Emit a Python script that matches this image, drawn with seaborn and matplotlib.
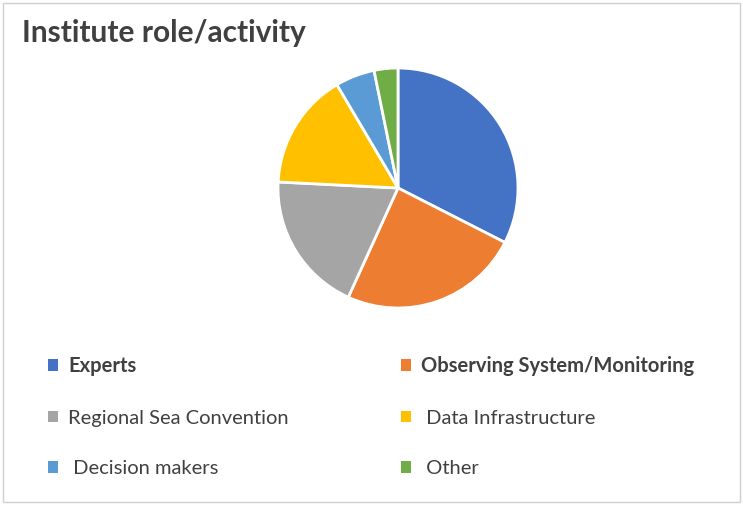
import matplotlib
matplotlib.use('Agg')
import matplotlib.pyplot as plt
import seaborn as sns
from matplotlib.patches import Patch, Rectangle

# data (share of answers, %)
roles = ['Experts', 'Observing System/Monitoring', 'Regional Sea Convention',
         ' Data Infrastructure', ' Decision makers', ' Other']
shares = [32.5, 24.3, 19.0, 15.7, 5.3, 3.2]
colors = ['#4472C4', '#ED7D31', '#A5A5A5', '#FFC000', '#5B9BD5', '#70AD47']
bold_roles = ['Experts', 'Observing System/Monitoring']

sns.set_theme(style='white')
plt.rcParams['font.family'] = ['Lato', 'DejaVu Sans']

fig = plt.figure(figsize=(7.43, 5.05), dpi=100)
W, H = 743, 505
cx, cy, r = 398, 188, 120
ax = fig.add_axes([(cx - r) / W, (H - cy - r) / H, 2 * r / W, 2 * r / H])

wedges, _ = ax.pie(shares, colors=sns.color_palette(colors), startangle=90,
                   counterclock=False, radius=1,
                   wedgeprops=dict(edgecolor='white', linewidth=2))
ax.set_xlim(-1.0, 1.0)
ax.set_ylim(-1.0, 1.0)
ax.set_aspect('equal')
ax.axis('off')

fig.text(22 / W, 1 - 33 / H, 'Institute role/activity', fontsize=21.5,
         fontweight='bold', color='#404040', va='center', ha='left')

# legend, row-wise order in two columns
order = [0, 2, 4, 1, 3, 5]
handles = [Patch(facecolor=colors[i], edgecolor='none') for i in order]
labels = [roles[i] for i in order]
leg = fig.legend(handles, labels, ncol=2, loc='upper left',
                 bbox_to_anchor=(48 / W, 1 - 356 / H), frameon=False,
                 fontsize=14.5, handlelength=0.5, handleheight=0.5,
                 handletextpad=0.5, labelspacing=1.67, columnspacing=5.57,
                 borderaxespad=0, borderpad=0)
for t in leg.get_texts():
    t.set_color('#404040')
    if t.get_text() in bold_roles:
        t.set_fontweight('bold')

fig.patches.append(Rectangle((3 / W, 3 / H), 1 - 6 / W, 1 - 6 / H,
                             transform=fig.transFigure, fill=False,
                             edgecolor='#d0d0d0', linewidth=1))

fig.savefig('out.png', dpi=100)
